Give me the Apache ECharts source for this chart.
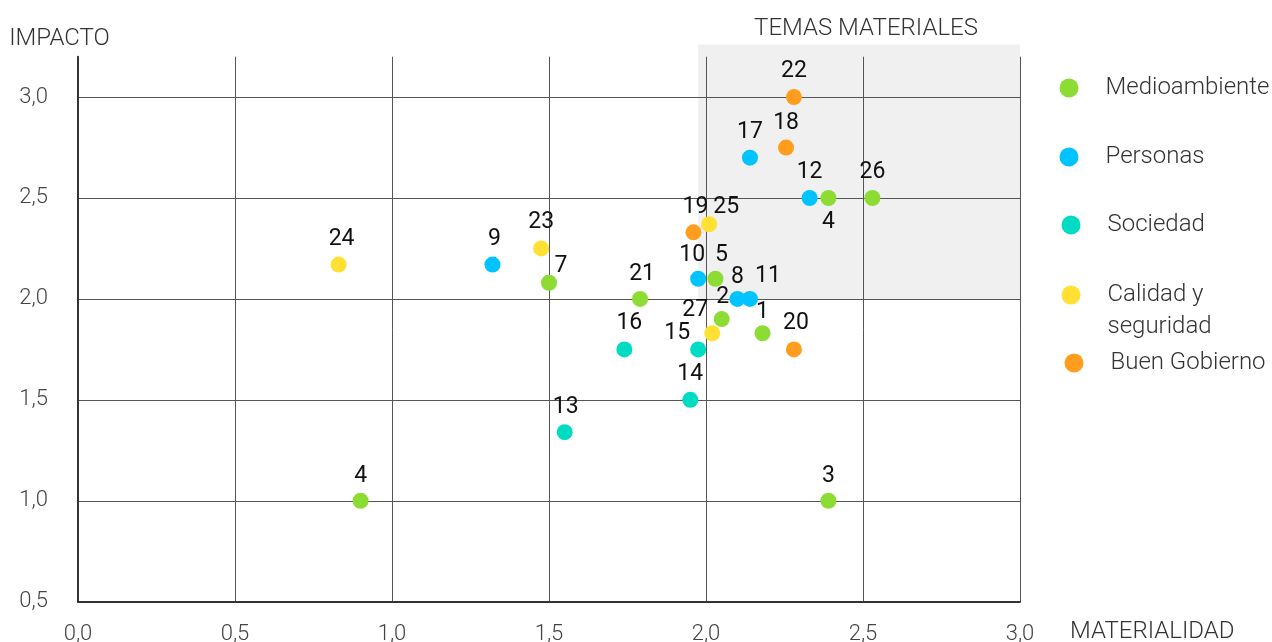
<!DOCTYPE html>
<html>
<head>
<meta charset="utf-8">
<script src="https://cdn.jsdelivr.net/npm/echarts@6/dist/echarts.min.js"></script>
<style>
  html, body { margin: 0; padding: 0; background: #fff; }
  #chart { width: 1272px; height: 642px; }
</style>
</head>
<body>
<div id="chart"></div>
<script>
// ---- Data (x = materialidad, y = impacto, label) ----
const seriesNames = ['Medioambiente', 'Personas', 'Sociedad', 'Calidad y seguridad', 'Buen Gobierno'];

const medioambiente = [
  [2.18, 1.83, '1'], [2.05, 1.90, '2'], [2.39, 1.00, '3'], [0.90, 1.00, '4'],
  [2.39, 2.50, '4'], [2.03, 2.10, '5'], [1.50, 2.08, '7'], [1.79, 2.00, '21'],
  [2.53, 2.50, '26']
];
const personas = [
  [2.14, 2.70, '17'], [2.33, 2.50, '12'], [1.32, 2.17, '9'], [1.975, 2.10, '10'],
  [2.10, 2.00, '8'], [2.14, 2.00, '11']
];
const sociedad = [
  [1.74, 1.75, '16'], [1.975, 1.75, '15'], [1.95, 1.50, '14'], [1.55, 1.34, '13']
];
const calidad = [
  [0.83, 2.17, '24'], [1.475, 2.25, '23'], [2.01, 2.37, '25'], [2.02, 1.83, '27']
];
const buenGobierno = [
  [2.28, 3.00, '22'], [2.255, 2.75, '18'], [1.96, 2.33, '19'], [2.28, 1.75, '20']
];

// highlighted zone "TEMAS MATERIALES": [xFrom, yFrom, xTo, yTo]
const temasMateriales = [[1.975, 2.0, 3.0, 3.26]];

const xTicks = [0, 0.5, 1.0, 1.5, 2.0, 2.5, 3.0];
const yTicks = [0.5, 1.0, 1.5, 2.0, 2.5, 3.0];

// ---- Label placement (style, kept apart from the data) ----
const labelOffsets = {
  'Medioambiente': [[0,-21],[1,-22],[0,-25],[0,-25],[0,24],[6,-23],[12,-17],[2,-25],[0,-26]],
  'Personas': [[0,-25],[0,-26],[2,-25],[-6,-23],[0,-22],[18,-23]],
  'Sociedad': [[5,-26],[-21,-16],[0,-26],[1,-25]],
  'Calidad y seguridad': [[3,-25],[0,-26],[17,-17],[-17,-23]],
  'Buen Gobierno': [[0,-26],[0,-24],[2,-25],[2,-26]]
};
const colors = {
  'Medioambiente': '#8CDC33',
  'Personas': '#00C3FF',
  'Sociedad': '#00DCC4',
  'Calidad y seguridad': '#FFE033',
  'Buen Gobierno': '#FF9D1E'
};
const dataByName = {
  'Medioambiente': medioambiente,
  'Personas': personas,
  'Sociedad': sociedad,
  'Calidad y seguridad': calidad,
  'Buen Gobierno': buenGobierno
};

const fmt = v => v.toFixed(1).replace('.', ',');
const FONT = 'Roboto, "Noto Sans", sans-serif';

const scatterSeries = seriesNames.map(name => ({
  name: name,
  type: 'scatter',
  symbol: 'circle',
  symbolSize: 16,
  itemStyle: { color: colors[name], opacity: 1 },
  z: 5,
  data: dataByName[name].map((d, i) => ({
    value: [d[0], d[1]],
    label: {
      show: true,
      formatter: d[2],
      position: 'inside',
      offset: labelOffsets[name][i],
      color: '#111',
      fontSize: 23,
      fontFamily: FONT,
      fontWeight: 400
    }
  })),
  emphasis: { disabled: true }
}));

const zoneSeries = {
  type: 'custom',
  name: 'zona',
  z: -1,
  silent: true,
  clip: false,
  data: temasMateriales,
  renderItem: function (params, api) {
    const p1 = api.coord([api.value(0), api.value(3)]);
    const p2 = api.coord([api.value(2), api.value(1)]);
    return {
      type: 'rect',
      shape: { x: p1[0], y: p1[1], width: p2[0] - p1[0], height: p2[1] - p1[1] },
      style: { fill: '#F0F0F0' }
    };
  }
};

const legendPlaces = [
  { left: 1059.5, top: 75, lh: 26 },
  { left: 1059.5, top: 144, lh: 26 },
  { left: 1061.5, top: 212, lh: 26 },
  { left: 1061.5, top: 247, lh: 32 },
  { left: 1064.5, top: 350, lh: 26 }
];
const legends = seriesNames.map((name, i) => ({
  data: [name],
  orient: 'vertical',
  left: legendPlaces[i].left,
  top: legendPlaces[i].top,
  padding: 0,
  icon: 'circle',
  itemWidth: 19,
  itemHeight: 19,
  selectedMode: false,
  formatter: n => (n === 'Calidad y seguridad' ? ' \nCalidad y\nseguridad' : n),
  textStyle: {
    color: '#333',
    fontSize: 24,
    fontFamily: FONT,
    fontWeight: 300,
    lineHeight: legendPlaces[i].lh,
    padding: [0, 0, 0, 22]
  }
}));

const chart = echarts.init(document.getElementById('chart'), null, { renderer: 'canvas' });
chart.setOption({
  animation: false,
  backgroundColor: '#fff',
  title: {
    text: 'TEMAS MATERIALES',
    left: 866,
    top: 17,
    textAlign: 'center',
    padding: 0,
    textStyle: { color: '#333', fontSize: 24, fontWeight: 300, fontFamily: FONT }
  },
  legend: legends,
  grid: { left: 78, right: 252, top: 56.7, bottom: 40.3, containLabel: false, outerBoundsMode: 'none' },
  xAxis: {
    type: 'value',
    min: xTicks[0],
    max: xTicks[xTicks.length - 1],
    interval: 0.5,
    name: '\nMATERIALIDAD',
    nameLocation: 'end',
    nameGap: 50,
    nameMoveOverlap: false,
    nameTextStyle: {
      color: '#333', fontSize: 24, fontWeight: 300, fontFamily: FONT,
      align: 'left', verticalAlign: 'middle', lineHeight: 60
    },
    axisLine: { show: true, lineStyle: { color: '#333', width: 2 } },
    axisTick: { show: false },
    axisLabel: {
      formatter: fmt, margin: 22, color: '#444',
      fontSize: 22, fontWeight: 300, fontFamily: FONT
    },
    splitLine: { show: true, lineStyle: { color: '#555', width: 1 } }
  },
  yAxis: {
    type: 'value',
    min: yTicks[0],
    max: 3.2,
    interval: 0.5,
    name: 'IMPACTO',
    nameLocation: 'end',
    nameGap: 18,
    nameMoveOverlap: false,
    nameTextStyle: {
      color: '#333', fontSize: 24, fontWeight: 300, fontFamily: FONT,
      align: 'center', verticalAlign: 'middle', padding: [0, 37, 0, 0]
    },
    axisLine: { show: true, lineStyle: { color: '#333', width: 2 } },
    axisTick: { show: false },
    axisLabel: {
      formatter: v => (yTicks.some(t => Math.abs(t - v) < 1e-9) ? fmt(v) : ''),
      showMaxLabel: false,
      margin: 30, color: '#444', padding: [0, 0, 10, 0],
      fontSize: 22, fontWeight: 300, fontFamily: FONT
    },
    splitLine: { show: true, showMaxLine: false, lineStyle: { color: '#555', width: 1 } }
  },
  series: [zoneSeries].concat(scatterSeries)
});
</script>
</body>
</html>
